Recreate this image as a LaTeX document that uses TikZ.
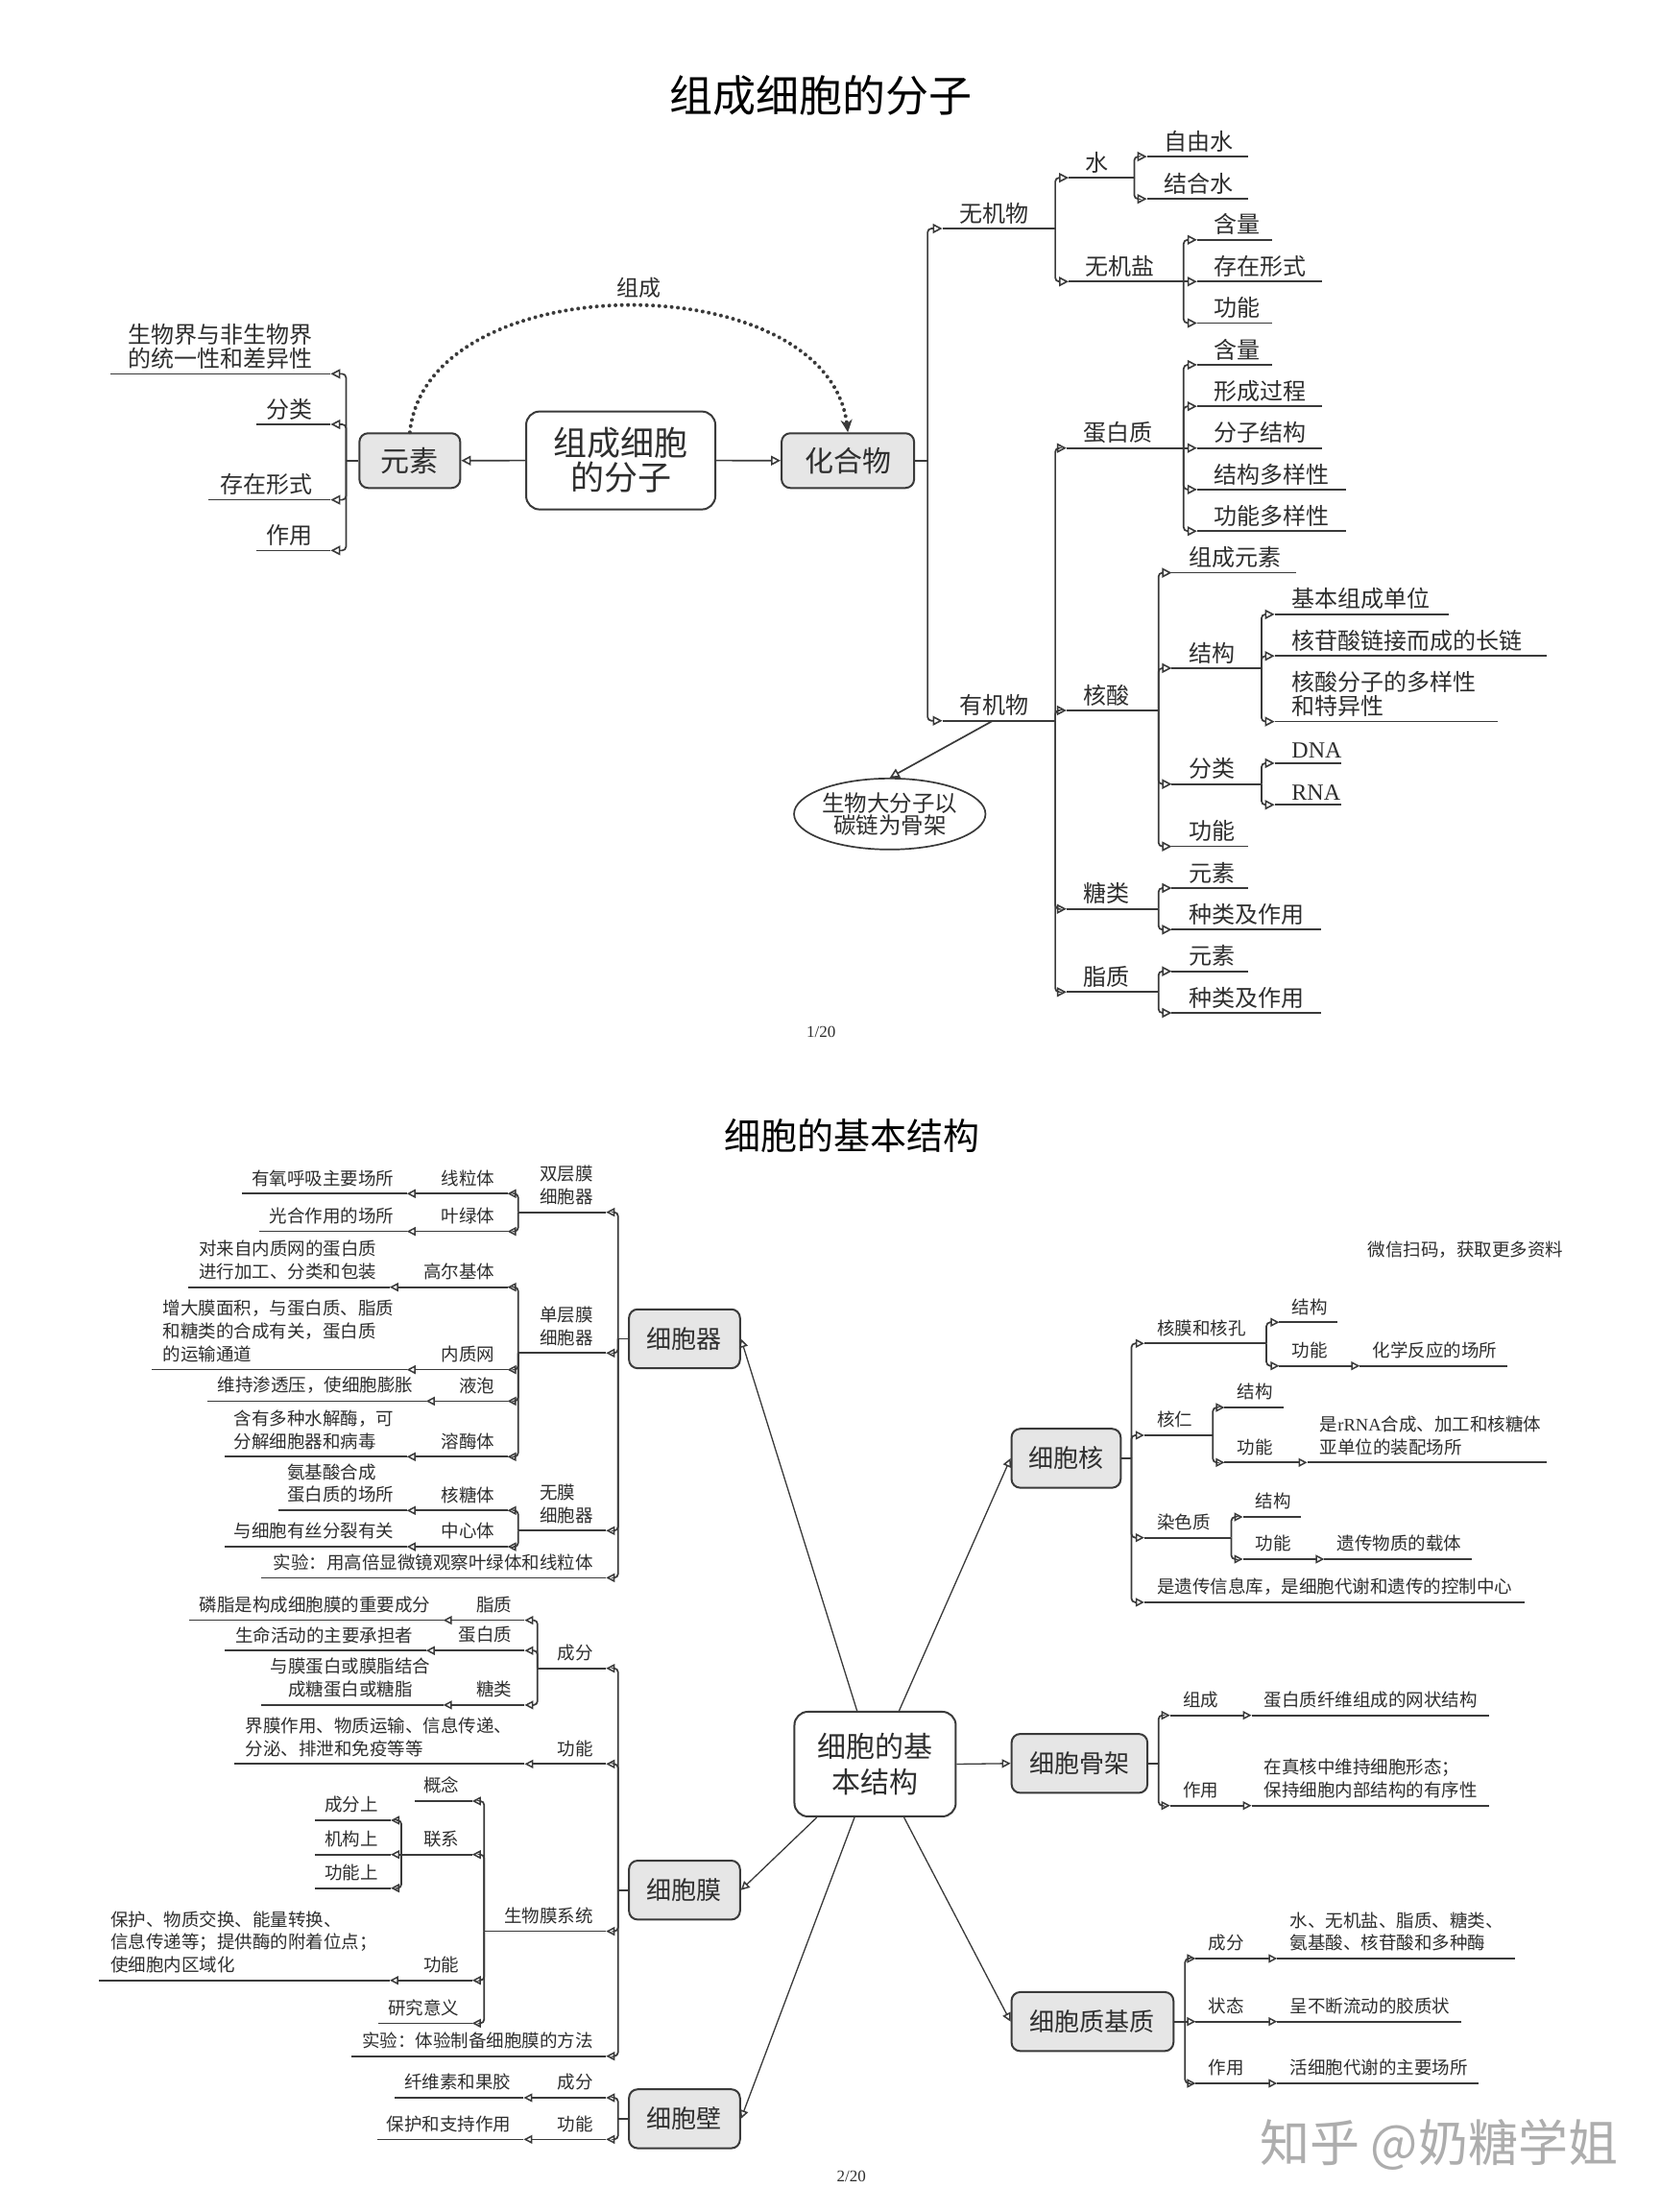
\documentclass[tikz,border=0pt]{standalone}
\usepackage{fontspec}
\setmainfont{Noto Sans CJK SC}
\newfontfamily\latserif{Liberation Serif}
\usetikzlibrary{arrows.meta,calc,shapes.geometric}
\definecolor{lc}{HTML}{3A3A3A}
\definecolor{tc}{HTML}{2E2E2E}
\definecolor{bf}{HTML}{E6E6E6}
\newcommand\tgap{12}
\newcommand\tlift{3.2}
\newcommand\lf{\fontsize{24}{25}\selectfont}
\tikzset{
  ln/.style={draw=lc,line width=1.7pt},
  thinln/.style={draw=lc,line width=1.3pt},
  >={Triangle[open,length=10pt,width=10pt,line width=1.6pt]},
  lbl/.style={inner sep=0pt,font=\lf,text=tc,align=left},
  glbl/.style={lbl},
  cbox/.style={draw=lc,line width=2pt,rounded corners=9pt,fill=bf,text=tc,inner sep=0pt},
}
\newcommand\branch[4]{%
  \ifdim #2pt=#3pt \draw[ln,->] (#1,#2) -- (#4);%
  \else \draw[ln,->,rounded corners=4pt] (#1,#2) |- (#4);\fi}
% right child: name, bar x, parent y, y, arrow x, end x, text
\newcommand\RC[7]{%
  \coordinate (#1a) at (#5,#4);
  \coordinate (#1e) at (#6,#4);
  \branch{#2}{#3}{#4}{#1a}
  \draw[ln] (#1a) -- (#1e);
  \node[lbl,anchor=south west] (#1) at ($(#1a)+(\tgap,-\tlift)$) {#7};}
\newcommand\LC[7]{%
  \coordinate (#1a) at (#5,#4);
  \coordinate (#1e) at (#6,#4);
  \branch{#2}{#3}{#4}{#1a}
  \draw[ln] (#1a) -- (#1e);
  \node[lbl,anchor=south east] (#1) at ($(#1a)+(-\tgap,-\tlift)$) {#7};}
% with grandchild on same line: name, bar, py, y, ax, gx, ex, text, gtext
\newcommand\RCC[9]{%
  \coordinate (#1a) at (#5,#4);
  \coordinate (#1g) at (#6,#4);
  \coordinate (#1e) at (#7,#4);
  \branch{#2}{#3}{#4}{#1a}
  \draw[ln,->] (#1a) -- (#1g);
  \draw[ln] (#1g) -- (#1e);
  \node[lbl,anchor=south west] (#1) at ($(#1a)+(\tgap,-\tlift)$) {#8};
  \node[glbl,anchor=south west] (#1t) at ($(#1g)+(\tgap,-\tlift)$) {#9};}
\newcommand\LCC[9]{%
  \coordinate (#1a) at (#5,#4);
  \coordinate (#1g) at (#6,#4);
  \coordinate (#1e) at (#7,#4);
  \branch{#2}{#3}{#4}{#1a}
  \draw[ln,->] (#1a) -- (#1g);
  \draw[ln] (#1g) -- (#1e);
  \node[lbl,anchor=south east] (#1) at ($(#1a)+(-\tgap,-\tlift)$) {#8};
  \node[glbl,anchor=south east] (#1t) at ($(#1g)+(-\tgap,-\tlift)$) {#9};}
\begin{document}
\begin{tikzpicture}[x=1.4694pt,y=-1.4694pt]
\fill[white] (0,0) rectangle (1176,1568);
\useasboundingbox (0,0) rectangle (1176,1568);

% ================= TOP =================
\node[font=\fontsize{45}{48}\selectfont,text=black] (t1) at (582,68) {组成细胞的分子};
\node[cbox,fill=white,rounded corners=14pt,minimum width=197pt,minimum height=102pt,font=\fontsize{35}{36}\selectfont,align=center] (m1) at (440,326.4) {组成细胞\\的分子};
\node[cbox,minimum width=105pt,minimum height=57pt,font=\fontsize{30}{32}\selectfont] (ys) at (290.5,326.5) {元素};
\node[cbox,minimum width=138pt,minimum height=57pt,font=\fontsize{30}{32}\selectfont] (hhw) at (601,326.5) {化合物};
\draw[ln,->] (m1.west) -- (ys.east);
\draw[ln,->] (m1.east) -- (hhw.west);
\draw[lc,line width=4pt,line cap=round,dash pattern=on 0.01pt off 6.5pt,-{Stealth[length=13pt,width=12pt,line cap=butt]}] (ys.north) .. controls (303,187) and (587,187) .. (hhw.north);
\node[font=\fontsize{23}{24}\selectfont,text=tc] (zclbl) at (453,204) {组成};

\renewcommand\tgap{13}
\coordinate (ysb) at (245.3,326.5);
\draw[ln] (ys.west) -- (ysb);
\LC{l1}{245.3}{326.5}{265}{234.4}{78}{生物界与非生物界\\的统一性和差异性}
\LC{l2}{245.3}{326.5}{300.8}{234.4}{181.7}{分类}
\LC{l3}{245.3}{326.5}{354.3}{234.4}{147.7}{存在形式}
\LC{l4}{245.3}{326.5}{390.2}{234.4}{181.7}{作用}

\renewcommand\tgap{12}
\coordinate (hhwb) at (657.5,326.5);
\draw[ln] (hhw.east) -- (hhwb);
\RC{wjw}{657.5}{326.5}{162}{668}{748}{无机物}
\RC{yjw}{657.5}{326.5}{510.9}{668}{748}{有机物}
\RC{shui}{748}{162}{126}{757.5}{804}{水}
\RC{zys}{804}{126}{111}{813}{885}{自由水}
\RC{jhs}{804}{126}{141}{813}{885}{结合水}
\RC{wjy}{748}{162}{199.6}{757.5}{839}{无机盐}
\RC{hla}{839}{199.6}{170}{848.5}{902}{含量}
\RC{czxs}{839}{199.6}{199.6}{848.5}{937}{存在形式}
\RC{gna}{839}{199.6}{229}{848.5}{902}{功能}

\RC{dbz}{748}{510.9}{317.6}{756}{839}{蛋白质}
\RC{hlb}{839}{317.6}{258.6}{848.5}{902}{含量}
\RC{xcgc}{839}{317.6}{288}{848.5}{937}{形成过程}
\RC{fzjg}{839}{317.6}{317.6}{848.5}{937}{分子结构}
\RC{jgdy}{839}{317.6}{347}{848.5}{954}{结构多样性}
\RC{gndy}{839}{317.6}{376.5}{848.5}{954}{功能多样性}
\RC{hs}{748}{510.9}{503.6}{756}{821.2}{核酸}
\RC{zcys}{821.2}{503.6}{406}{830.6}{919}{组成元素}
\RC{jg}{821.2}{503.6}{473.6}{830.6}{894.2}{结构}
\RC{jbdw}{894.2}{473.6}{435.5}{903.5}{1026.8}{基本组成单位}
\RC{hgs}{894.2}{473.6}{465}{903.5}{1096.2}{核苷酸链接而成的长链}
\RC{dyx}{894.2}{473.6}{511.5}{903.5}{1061.5}{核酸分子的多样性\\和特异性}
\RC{fl}{821.2}{503.6}{555.8}{830.6}{894.2}{分类}
\RC{dna}{894.2}{555.8}{541}{903.5}{950.4}{{\latserif DNA}}
\RC{rna}{894.2}{555.8}{570.5}{903.5}{950.4}{{\latserif RNA}}
\RC{gnb}{821.2}{503.6}{600}{830.6}{884.4}{功能}
\RC{tl}{748}{510.9}{644.3}{756}{821.2}{糖类}
\RC{ysb}{821.2}{644.3}{629.5}{830.6}{884.4}{元素}
\RC{zlb}{821.2}{644.3}{659}{830.6}{936.5}{种类及作用}
\RC{zz}{748}{510.9}{703.2}{756}{821.2}{脂质}
\RC{ysc}{821.2}{703.2}{688.5}{830.6}{884.4}{元素}
\RC{zlc}{821.2}{703.2}{718}{830.6}{936.5}{种类及作用}

\node[ellipse,draw=lc,line width=1.7pt,minimum width=184pt,minimum height=74pt,inner sep=0pt,align=center,font=\fontsize{23.5}{23.5}\selectfont,text=tc] (ell) at (630.7,577) {生物大分子以\\碳链为骨架};
\coordinate (yjwp) at (703.8,510.9);
\draw[ln,->] (yjwp) -- (ell.north);

\node[font=\latserif\fontsize{17}{18}\selectfont,text=tc] (p1) at (582,731.6) {1/20};

% ================= BOTTOM =================
\renewcommand\lf{\fontsize{18.5}{23.7}\selectfont}
\renewcommand\tgap{9}
\renewcommand\tlift{5.1}
\tikzset{>={Triangle[open,length=9pt,width=9pt,line width=1.5pt]}}
\node[font=\fontsize{38}{40}\selectfont,text=black] (t2) at (604,805) {细胞的基本结构};
\node[cbox,fill=white,rounded corners=14pt,minimum width=168pt,minimum height=109pt,font=\fontsize{30}{37}\selectfont,align=center] (m2) at (620.3,1250.5) {细胞的基\\本结构};
\node[cbox,minimum width=115.6pt,minimum height=61.4pt,font=\fontsize{26}{28}\selectfont] (xbq) at (485.2,949) {细胞器};
\node[cbox,minimum width=115.6pt,minimum height=61.4pt,font=\fontsize{26}{28}\selectfont] (xbm) at (485.2,1339.8) {细胞膜};
\node[cbox,minimum width=115.6pt,minimum height=61.4pt,font=\fontsize{26}{28}\selectfont] (xbb) at (485.2,1501.9) {细胞壁};
\node[cbox,minimum width=113.7pt,minimum height=61.4pt,font=\fontsize{26}{28}\selectfont] (xbh) at (755.7,1033.7) {细胞核};
\node[cbox,minimum width=141.5pt,minimum height=61.4pt,font=\fontsize{26}{28}\selectfont] (xbgj) at (765.2,1250) {细胞骨架};
\node[cbox,minimum width=168.7pt,minimum height=61.4pt,font=\fontsize{26}{28}\selectfont] (xbzj) at (774.4,1433) {细胞质基质};

\draw[thinln,->] ($(m2.north)+(-12.8,0)$) -- (xbq.east);
\draw[thinln,->] ($(m2.north)+(17,0)$) -- (xbh.west);
\draw[thinln,->] (m2.east) -- (xbgj.west);
\draw[thinln,->] ($(m2.south)+(20.5,0)$) -- (xbzj.west);
\draw[thinln,->] ($(m2.south)+(-41.3,0)$) -- (xbm.east);
\draw[thinln,->] ($(m2.south)+(-14.6,0)$) -- (xbb.east);

% 细胞器
\coordinate (xbqb) at (438.1,949);
\draw[ln] (xbq.west) -- (xbqb);
\LC{sc}{438.1}{949}{859.3}{429.6}{367.3}{双层膜\\细胞器}
\LCC{xlt}{367.3}{859.3}{846.1}{359.7}{288.4}{171.4}{线粒体}{有氧呼吸主要场所}
\LCC{ylt}{367.3}{859.3}{872.9}{359.7}{288.4}{183.5}{叶绿体}{光合作用的场所}
\LC{dc}{438.1}{949}{959.1}{429.6}{367.3}{单层膜\\细胞器}
\LCC{gej}{367.3}{959.1}{912.4}{359.7}{276.2}{133.4}{高尔基体}{对来自内质网的蛋白质\\进行加工、分类和包装}
\LCC{nzw}{367.3}{959.1}{970.9}{359.7}{288.4}{107.5}{内质网}{增大膜面积，与蛋白质、脂质\\和糖类的合成有关，蛋白质\\的运输通道}
\LCC{yp}{367.3}{959.1}{993.2}{359.7}{302}{147}{液泡}{维持渗透压，使细胞膨胀}
\LCC{rmt}{367.3}{959.1}{1032.6}{359.7}{288.4}{159.2}{溶酶体}{含有多种水解酶，可\\分解细胞器和病毒}
\LC{wmq}{438.1}{949}{1085}{429.6}{367.3}{无膜\\细胞器}
\LCC{htt}{367.3}{1085}{1070.7}{359.7}{288.4}{197.2}{核糖体}{氨基酸合成\\蛋白质的场所}
\LCC{zxt}{367.3}{1085}{1096.4}{359.7}{288.4}{159.2}{中心体}{与细胞有丝分裂有关}
\LC{sya}{438.1}{949}{1118.4}{429.6}{185}{实验：用高倍显微镜观察叶绿体和线粒体}

% 细胞膜
\coordinate (xbmb) at (438.1,1339.8);
\draw[ln] (xbm.west) -- (xbmb);
\LC{cf}{438.1}{1339.8}{1182.6}{429.6}{381}{成分}
\LCC{zzb}{381}{1182.6}{1148.5}{371.9}{314.2}{134.3}{脂质}{磷脂是构成细胞膜的重要成分}
\LCC{dbzb}{381}{1182.6}{1170}{371.9}{302}{159.2}{蛋白质}{生命活动的主要承担者}
\begin{scope}
\tikzset{glbl/.style={lbl,align=center}}
\LCC{tlb}{381}{1182.6}{1208.6}{371.9}{314.2}{185}{糖类}{与膜蛋白或膜脂结合\\成糖蛋白或糖脂}
\end{scope}
\LCC{gnc}{438.1}{1339.8}{1250.4}{429.6}{371.9}{165.9}{功能}{界膜作用、物质运输、信息传递、\\分泌、排泄和免疫等等}
\LC{swm}{438.1}{1339.8}{1369}{429.6}{343.2}{生物膜系统}
\LC{gn}{343.2}{1369}{1276.7}{334.7}{293.7}{概念}
\LC{lx}{343.2}{1369}{1314.6}{334.7}{284.5}{联系}
\LC{cfs}{284.5}{1314.6}{1290.3}{277}{222.9}{成分上}
\LC{jgs}{284.5}{1314.6}{1314.6}{277}{222.9}{机构上}
\LC{gns}{284.5}{1314.6}{1338.4}{277}{222.9}{功能上}
\LCC{gnd}{343.2}{1369}{1403.8}{334.7}{276.3}{70.4}{功能}{保护、物质交换、能量转换、\\信息传递等；提供酶的附着位点；\\使细胞内区域化}
\LC{yjyy}{343.2}{1369}{1434.2}{334.7}{267.9}{研究意义}
\LC{syb}{438.1}{1339.8}{1457.5}{429.6}{249}{实验：体验制备细胞膜的方法}

% 细胞壁
\coordinate (xbbb) at (438.1,1501.9);
\draw[ln] (xbb.west) -- (xbbb);
\LCC{cfc}{438.1}{1501.9}{1487}{429.6}{371.2}{280}{成分}{纤维素和果胶}
\LCC{gne}{438.1}{1501.9}{1516.5}{429.6}{371.2}{267.3}{功能}{保护和支持作用}

% 细胞核
\coordinate (xbhb) at (802,1033.7);
\draw[ln] (xbh.east) -- (xbhb);
\RC{hm}{802}{1033.7}{952.3}{811.1}{897.7}{核膜和核孔}
\RC{jgb}{897.7}{952.3}{937.3}{906.8}{947.9}{结构}
\RCC{gnf}{897.7}{952.3}{968.2}{906.8}{963.9}{1068.5}{功能}{化学反应的场所}
\RC{hr}{802}{1033.7}{1017.4}{811.1}{859.7}{核仁}
\RC{jgc}{859.7}{1017.4}{997.7}{868}{910}{结构}
\RCC{gng}{859.7}{1017.4}{1036.7}{868}{926.6}{1096.7}{功能}{是{\latserif rRNA}合成、加工和核糖体\\亚单位的装配场所}
\RC{rsz}{802}{1033.7}{1090}{811.1}{872.8}{染色质}
\RC{jgd}{872.8}{1090}{1075.3}{881}{922}{结构}
\RCC{gnh}{872.8}{1090}{1105.2}{881}{938.7}{1043.6}{功能}{遗传物质的载体}
\RC{ycxx}{802}{1033.7}{1135.8}{811.1}{1080.6}{是遗传信息库，是细胞代谢和遗传的控制中心}

% 细胞骨架
\coordinate (xbgjb) at (821.2,1250);
\draw[ln] (xbgj.east) -- (xbgjb);
\RCC{zc}{821.2}{1250}{1215.9}{829.4}{887.1}{1055.7}{组成}{蛋白质纤维组成的网状结构}
\RCC{zy}{821.2}{1250}{1279.9}{829.4}{887.1}{1055.7}{作用}{在真核中维持细胞形态；\\保持细胞内部结构的有序性}

% 细胞质基质
\coordinate (xbzjb) at (840,1433);
\draw[ln] (xbzj.east) -- (xbzjb);
\RCC{cfd}{840}{1433}{1388.3}{847.6}{905.3}{1073.9}{成分}{水、无机盐、脂质、糖类、\\氨基酸、核苷酸和多种酶}
\RCC{zt}{840}{1433}{1433}{847.6}{905.3}{1035.9}{状态}{呈不断流动的胶质状}
\RCC{zyb}{840}{1433}{1476.8}{847.6}{905.3}{1048}{作用}{活细胞代谢的主要场所}

\node[lbl] (wx) at (1039,886) {微信扫码，获取更多资料};
\node[font=\latserif\fontsize{17}{18}\selectfont,text=tc] (p2) at (603.4,1543) {2/20};
\node[font=\fontsize{52}{54}\selectfont,text=black!32] (zhihu) at (1020,1520) {知乎 @奶糖学姐};
\end{tikzpicture}
\end{document}
